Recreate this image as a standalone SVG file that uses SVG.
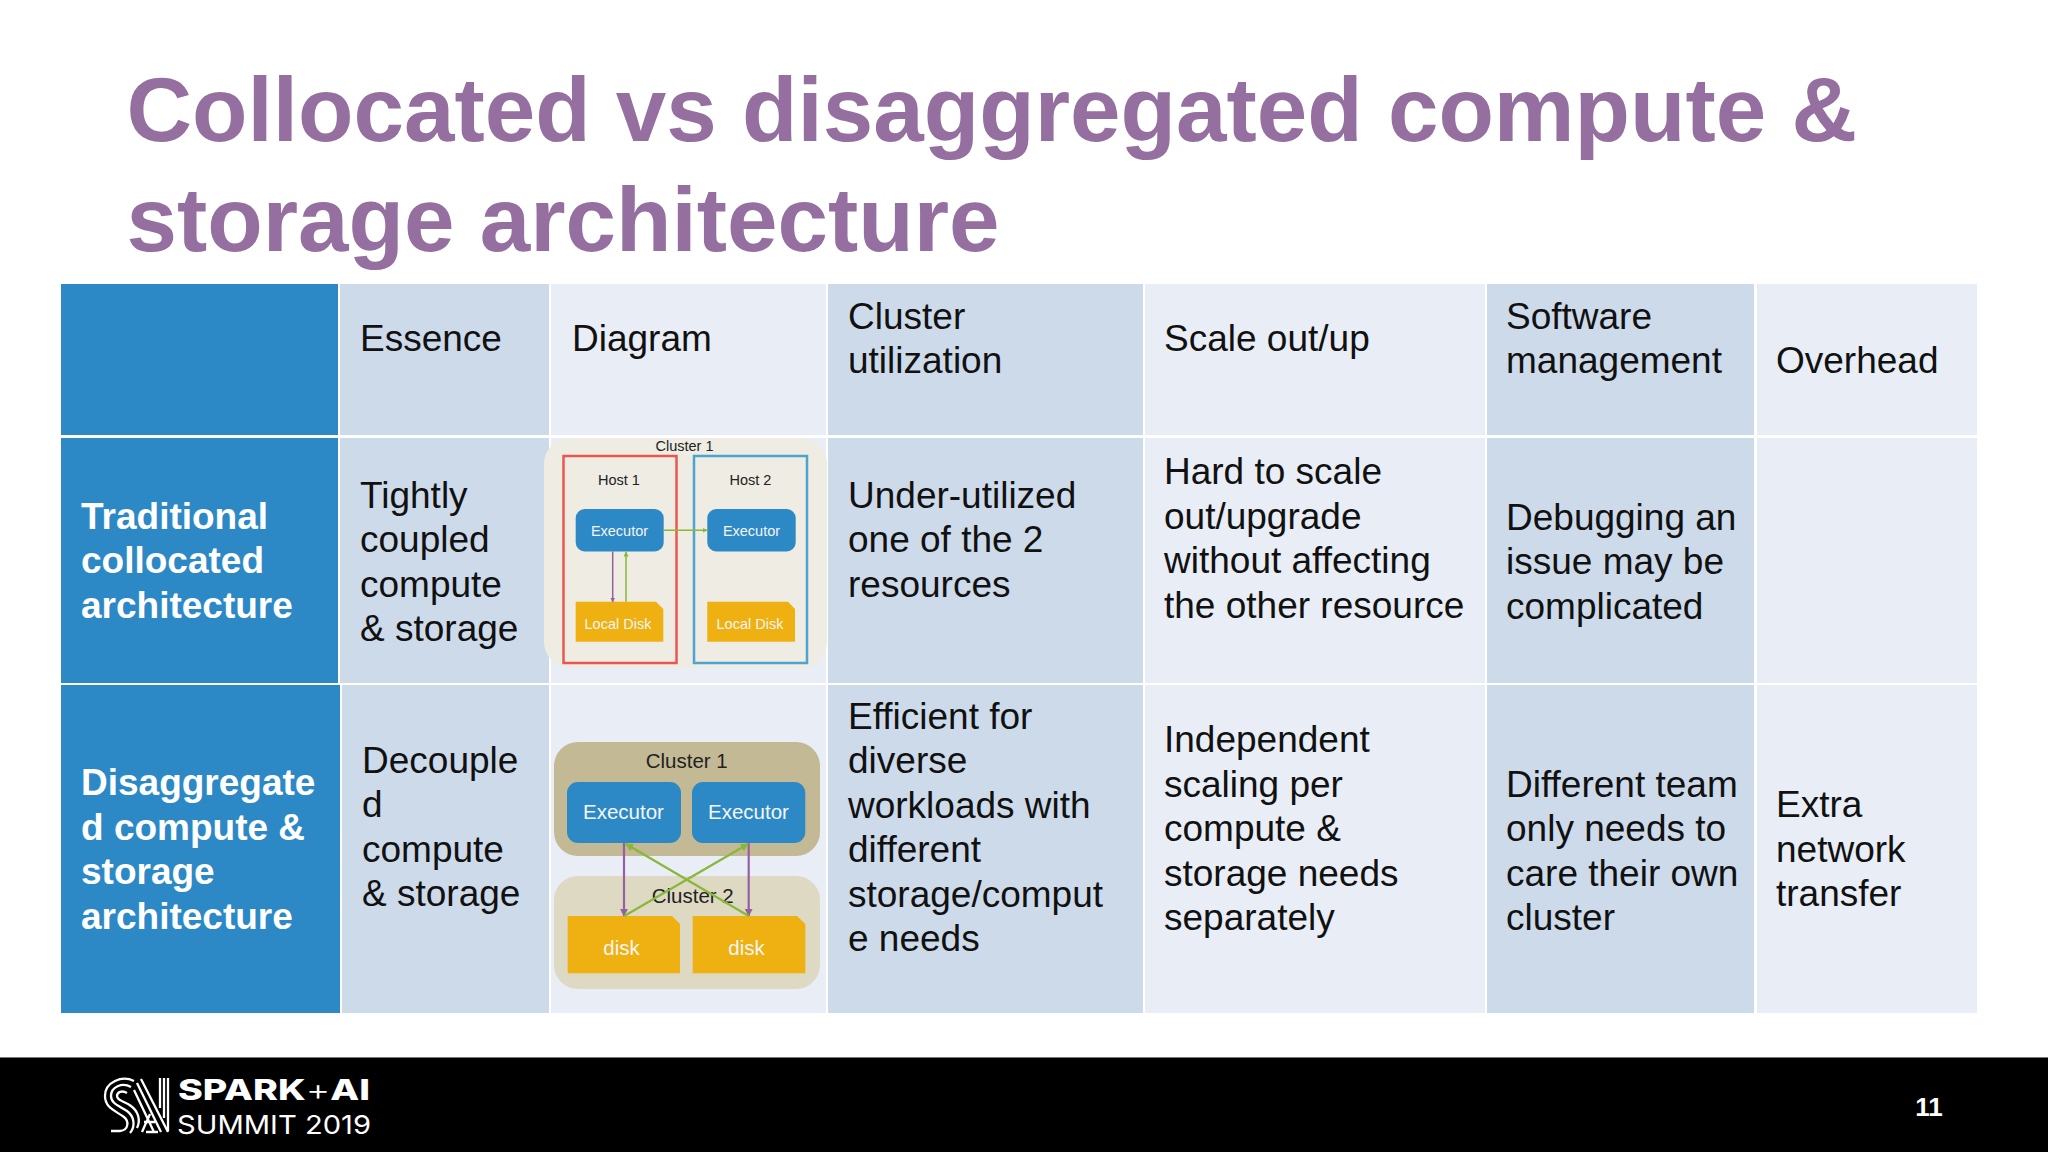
<svg xmlns="http://www.w3.org/2000/svg" width="2048" height="1152" viewBox="0 0 2048 1152">
<style>
text{font-family:"Liberation Sans",Arial,sans-serif}
.t{font-size:37px;fill:#111;transform:translateY(1.3px)}
.h{font-size:37px;font-weight:700;fill:#fff;transform:translateY(1.3px)}
.title{font-size:90.800px;font-weight:700;fill:#956f9f}
.b{fill:#2c89c6}.d{fill:#cddaea}.l{fill:#e8edf6}
.sm{font-size:14.500px;fill:#222;text-anchor:middle}
.smw{font-size:14.500px;fill:#f4f4f4;text-anchor:middle}
.md{font-size:20.500px;fill:#222;text-anchor:middle}
.mdw{font-size:20.500px;fill:#f6f6f6;text-anchor:middle}
.ex{fill:#2c89c6}.dk{fill:#eeb111}
.pu{stroke:#96609f;fill:none}.gr{stroke:#88b83a;fill:none}
.lg{fill:none;stroke:#fff;stroke-width:2.300}
.inter{font-family:Inter,"Liberation Sans",sans-serif;fill:#fff}
</style>
<defs>
<marker id="ap" viewBox="0 0 10 10" refX="9" refY="5" markerWidth="5" markerHeight="5" markerUnits="userSpaceOnUse" orient="auto"><path d="M0 0L10 5L0 10Z" fill="#96609f"/></marker>
<marker id="ag" viewBox="0 0 10 10" refX="9" refY="5" markerWidth="5" markerHeight="5" markerUnits="userSpaceOnUse" orient="auto"><path d="M0 0L10 5L0 10Z" fill="#88b83a"/></marker>
<marker id="ap2" viewBox="0 0 10 10" refX="9" refY="5" markerWidth="8" markerHeight="8" markerUnits="userSpaceOnUse" orient="auto"><path d="M0 0L10 5L0 10Z" fill="#96609f"/></marker>
<marker id="ag2" viewBox="0 0 10 10" refX="9" refY="5" markerWidth="8" markerHeight="8" markerUnits="userSpaceOnUse" orient="auto"><path d="M0 0L10 5L0 10Z" fill="#88b83a"/></marker>
</defs>
<rect width="2048" height="1152" fill="#fff"/>
<g id="title"><text class="title" x="126.500" y="141">Collocated vs disaggregated compute &amp;</text><text class="title" x="126.500" y="251">storage architecture</text></g>
<g id="table-header">
<rect class="b" x="61" y="284" width="277" height="151"/>
<g id="h-essence"><rect class="d" x="340" y="284" width="209" height="151"/><text class="t" x="360" y="350">Essence</text></g>
<g id="h-diagram"><rect class="l" x="551" y="284" width="275" height="151"/><text class="t" x="572" y="350">Diagram</text></g>
<g id="h-util"><rect class="d" x="828" y="284" width="315" height="151"/><text class="t" x="848" y="328">Cluster</text><text class="t" x="848" y="372">utilization</text></g>
<g id="h-scale"><rect class="l" x="1145" y="284" width="340" height="151"/><text class="t" x="1164" y="350">Scale out/up</text></g>
<g id="h-soft"><rect class="d" x="1487" y="284" width="267" height="151"/><text class="t" x="1506" y="328">Software</text><text class="t" x="1506" y="372">management</text></g>
<g id="h-over"><rect class="l" x="1757" y="284" width="220" height="151"/><text class="t" x="1776" y="372">Overhead</text></g>
</g>
<g id="row-traditional">
<g id="r1-name"><rect class="b" x="61" y="438" width="277" height="245"/><text class="h" x="81" y="528">Traditional</text><text class="h" x="81" y="572">collocated</text><text class="h" x="81" y="617">architecture</text></g>
<g id="r1-essence"><rect class="d" x="340" y="438" width="209" height="245"/><text class="t" x="360" y="507">Tightly</text><text class="t" x="360" y="551">coupled</text><text class="t" x="360" y="596">compute</text><text class="t" x="360" y="640">&amp; storage</text></g>
<g id="r1-diagram"><rect class="l" x="551" y="438" width="275" height="245"/></g>
<g id="r1-util"><rect class="d" x="828" y="438" width="315" height="245"/><text class="t" x="848" y="507">Under-utilized</text><text class="t" x="848" y="551">one of the 2</text><text class="t" x="848" y="596">resources</text></g>
<g id="r1-scale"><rect class="l" x="1145" y="438" width="340" height="245"/><text class="t" x="1164" y="483">Hard to scale</text><text class="t" x="1164" y="528">out/upgrade</text><text class="t" x="1164" y="572">without affecting</text><text class="t" x="1164" y="617">the other resource</text></g>
<g id="r1-soft"><rect class="d" x="1487" y="438" width="267" height="245"/><text class="t" x="1506" y="529">Debugging an</text><text class="t" x="1506" y="573">issue may be</text><text class="t" x="1506" y="618">complicated</text></g>
<g id="r1-over"><rect class="l" x="1757" y="438" width="220" height="245"/></g>
</g>
<g id="row-disaggregated">
<g id="r2-name"><rect class="b" x="61" y="685" width="279" height="328"/><text class="h" x="81" y="794">Disaggregate</text><text class="h" x="81" y="839">d compute &amp;</text><text class="h" x="81" y="883">storage</text><text class="h" x="81" y="928">architecture</text></g>
<g id="r2-essence"><rect class="d" x="342" y="685" width="207" height="328"/><text class="t" x="362" y="772">Decouple</text><text class="t" x="362" y="816">d</text><text class="t" x="362" y="861">compute</text><text class="t" x="362" y="905">&amp; storage</text></g>
<g id="r2-diagram"><rect class="l" x="551" y="685" width="275" height="328"/></g>
<g id="r2-util"><rect class="d" x="828" y="685" width="315" height="328"/><text class="t" x="848" y="728">Efficient for</text><text class="t" x="848" y="772">diverse</text><text class="t" x="848" y="817">workloads with</text><text class="t" x="848" y="861">different</text><text class="t" x="848" y="906">storage/comput</text><text class="t" x="848" y="950">e needs</text></g>
<g id="r2-scale"><rect class="l" x="1145" y="685" width="340" height="328"/><text class="t" x="1164" y="751">Independent</text><text class="t" x="1164" y="796">scaling per</text><text class="t" x="1164" y="840">compute &amp;</text><text class="t" x="1164" y="885">storage needs</text><text class="t" x="1164" y="929">separately</text></g>
<g id="r2-soft"><rect class="d" x="1487" y="685" width="267" height="328"/><text class="t" x="1506" y="796">Different team</text><text class="t" x="1506" y="840">only needs to</text><text class="t" x="1506" y="885">care their own</text><text class="t" x="1506" y="929">cluster</text></g>
<g id="r2-over"><rect class="l" x="1757" y="685" width="220" height="328"/><text class="t" x="1776" y="816">Extra</text><text class="t" x="1776" y="861">network</text><text class="t" x="1776" y="905">transfer</text></g>
</g>
<g id="d1-cluster"><rect x="544" y="438" width="283" height="230" rx="26" fill="#eeece3"/><text class="sm" x="684.500" y="451">Cluster 1</text></g>
<g id="d1-host1"><rect x="563.500" y="456" width="113" height="207" fill="none" stroke="#e8584f" stroke-width="2.500"/><text class="sm" x="619" y="484.500">Host 1</text></g>
<g id="d1-host2"><rect x="694" y="456" width="113" height="207" fill="none" stroke="#4ea3d1" stroke-width="2.500"/><text class="sm" x="750.500" y="484.500">Host 2</text></g>
<g id="d1-exec1"><rect class="ex" x="575.700" y="509" width="88" height="42.500" rx="9"/><text class="smw" x="619.500" y="535.500">Executor</text></g>
<g id="d1-exec2"><rect class="ex" x="707.300" y="509" width="88.400" height="42.500" rx="9"/><text class="smw" x="751.500" y="535.500">Executor</text></g>
<g id="d1-disk1"><path class="dk" d="M575.700 601.700H656L663.300 609V641.700H575.700Z"/><text class="smw" x="618" y="629">Local Disk</text></g>
<g id="d1-disk2"><path class="dk" d="M707.300 601.700H788L795 609V641.700H707.300Z"/><text class="smw" x="750" y="629">Local Disk</text></g>
<g id="d2-cluster1"><rect x="554" y="742" width="266" height="114" rx="24" fill="#c3b994"/><text class="md" x="686.700" y="768">Cluster 1</text></g>
<g id="d2-cluster2"><rect x="554" y="876" width="266" height="113" rx="24" fill="#ddd9c3"/><text class="md" x="692.700" y="903">Cluster 2</text></g>
<g id="d2-exec1"><rect class="ex" x="567" y="782" width="114" height="61" rx="11"/><text class="mdw" x="623.500" y="819">Executor</text></g>
<g id="d2-exec2"><rect class="ex" x="692" y="782" width="113.300" height="61" rx="11"/><text class="mdw" x="748.500" y="819">Executor</text></g>
<g id="d2-disk1"><path class="dk" d="M567.700 916H672L680 924V973.300H567.700Z"/><text class="mdw" x="621.500" y="955">disk</text></g>
<g id="d2-disk2"><path class="dk" d="M692.700 916H797L805.300 924V973.300H692.700Z"/><text class="mdw" x="746.500" y="955">disk</text></g>
<g id="connectors">
<path class="gr" stroke-width="1.500" d="M663.700 530.300H707" marker-end="url(#ag)"/>
<path class="pu" stroke-width="1.500" d="M612.700 551.500V602" marker-end="url(#ap)"/>
<path class="gr" stroke-width="1.500" d="M626 601.700V552" marker-end="url(#ag)"/>
<path class="pu" stroke-width="2.200" d="M624 843V916" marker-end="url(#ap2)"/>
<path class="pu" stroke-width="2.200" d="M748.700 843V916" marker-end="url(#ap2)"/>
<path class="gr" stroke-width="2.200" d="M624.300 916L748 844" marker-end="url(#ag2)"/>
<path class="gr" stroke-width="2.200" d="M748.700 916L626 844" marker-end="url(#ag2)"/>
</g>
<g id="footer">
<rect y="1057" width="2048" height="95" fill="#000"/>
<rect y="1057" width="2048" height="1" fill="#777"/>
<g id="logo-mark">
<path class="lg" d="M134 1081C122 1075 105 1082 105 1096C105 1108 116 1111 124 1117C129 1121 129 1130 120 1131H111"/>
<path class="lg" d="M131 1087C122 1082 111 1087 111 1096C111 1104 120 1106 127 1111C134 1116 136 1126 130 1133"/>
<path class="lg" d="M127 1093C122 1090 117 1092 117 1096C117 1101 125 1101 131 1106C138 1111 141 1120 137 1128"/>
<path class="lg" d="M141 1079L168 1132M137 1083L161 1132M134 1090L154 1132M142 1132L150 1114M144 1122H155M146 1132H158"/>
<path class="lg" d="M160 1078V1108M164 1078V1118M168 1078V1131"/>
</g>
<text class="inter" x="178" y="1100" font-size="29" font-weight="800" textLength="192" lengthAdjust="spacingAndGlyphs">SPARK<tspan font-weight="300">+</tspan>AI</text>
<text class="inter" x="177" y="1134" font-size="26" textLength="194" lengthAdjust="spacingAndGlyphs">SUMMIT 2019</text>
<text x="1929" y="1116" font-size="26" font-weight="700" fill="#fff" text-anchor="middle">11</text>
</g>
</svg>
